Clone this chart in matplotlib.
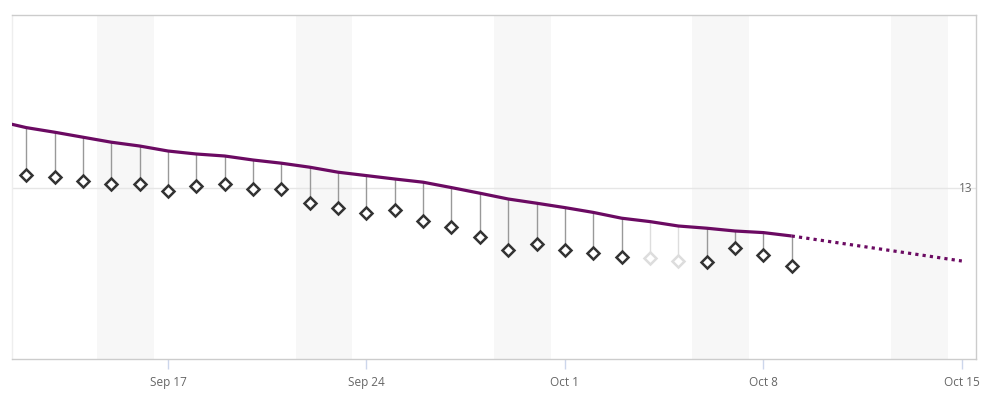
import datetime as dt
import matplotlib
matplotlib.use("Agg")
import matplotlib.pyplot as plt
import matplotlib.dates as mdates

# ---- data ----
start_date = dt.date(2018, 9, 12)
actual = [13.065, 13.054, 13.037, 13.019, 13.019, 12.985, 13.012, 13.020,
          12.994, 12.994, 12.927, 12.899, 12.877, 12.890, 12.837, 12.804,
          12.754, 12.690, 12.719, 12.690, 12.674, 12.657, 12.652, 12.637,
          12.629, 12.702, 12.665, 12.612]
excluded = [False] * 22 + [True, True] + [False] * 4
trend_start = dt.date(2018, 9, 11)
trend = [13.335, 13.302, 13.279, 13.254, 13.229, 13.210, 13.185, 13.170,
         13.160, 13.140, 13.124, 13.104, 13.079, 13.062, 13.045, 13.029,
         13.002, 12.974, 12.945, 12.924, 12.902, 12.878, 12.849, 12.832,
         12.810, 12.799, 12.785, 12.777, 12.760]
forecast_dates = [dt.date(2018, 10, 9), dt.date(2018, 10, 15)]
forecast = [12.760, 12.635]
weekend_starts = [dt.date(2018, 9, 15), dt.date(2018, 9, 22), dt.date(2018, 9, 29),
                  dt.date(2018, 10, 6), dt.date(2018, 10, 13)]
tick_dates = [dt.date(2018, 9, 17), dt.date(2018, 9, 24), dt.date(2018, 10, 1),
              dt.date(2018, 10, 8), dt.date(2018, 10, 15)]
tick_labels = ["Sep 17", "Sep 24", "Oct 1", "Oct 8", "Oct 15"]
y_ticks = [13]
y_tick_labels = ["13"]

# ---- derived ----
act_dates = [start_date + dt.timedelta(days=i) for i in range(len(actual))]
tr_dates = [trend_start + dt.timedelta(days=i) for i in range(len(trend))]
tr_map = {d: v for d, v in zip(tr_dates, trend)}
xn = mdates.date2num

fig = plt.figure(figsize=(9.99, 3.94), dpi=100)
ax = fig.add_axes([12 / 999, (394 - 359) / 394, (976 - 12) / 999, (359 - 15) / 394])

x0 = xn(dt.datetime(2018, 9, 11, 12))
x1 = xn(dt.datetime(2018, 10, 15, 12))
ax.set_xlim(x0, x1)
ax.set_ylim(12.145, 13.865)

half = 0.5
for ws in weekend_starts:
    ax.axvspan(xn(ws) - half, xn(ws) + 1 + half, color="#f7f7f7", lw=0, zorder=0)

ax.axhline(13, color="#e6e6e6", lw=1, zorder=1)

# stems
for d, v, ex in zip(act_dates, actual, excluded):
    ax.plot([xn(d), xn(d)], [tr_map[d], v], color="#dddddd" if ex else "#999999",
            lw=1, zorder=2, solid_capstyle="butt")

ax.plot([xn(d) for d in tr_dates], trend, color="#6b0a62", lw=2.3, zorder=3,
        solid_joinstyle="round", solid_capstyle="butt")
ax.plot([xn(d) for d in forecast_dates], forecast, color="#6b0a62", lw=2.3,
        linestyle=(0, (1, 1.3)), zorder=3, dash_capstyle="butt")

for d, v, ex in zip(act_dates, actual, excluded):
    ax.plot(xn(d), v, marker="D", ms=6.5, mfc="white",
            mec="#dddddd" if ex else "#333333", mew=1.8, zorder=4, clip_on=False)

ax.set_xticks([xn(d) for d in tick_dates])
ax.set_xticklabels(tick_labels)
ax.tick_params(axis="x", length=7, width=1, color="#ccd6eb", labelsize=8.5,
               labelcolor="#666666", pad=5)
for t in ax.get_xticklabels():
    t.set_fontfamily(["Open Sans", "DejaVu Sans"])

ax.set_yticks([])
for yt, lab in zip(y_ticks, y_tick_labels):
    ax.text(0.996, yt, lab, transform=ax.get_yaxis_transform(), ha="right",
            va="center", fontsize=8.5, color="#666666",
            family=["Open Sans", "DejaVu Sans"], zorder=5)

for side in ["top", "right", "bottom"]:
    ax.spines[side].set_color("#cccccc")
    ax.spines[side].set_linewidth(1)
ax.spines["left"].set_color("#eeeeee")
ax.spines["left"].set_linewidth(1)

fig.savefig("out.png", dpi=100, facecolor="white")
